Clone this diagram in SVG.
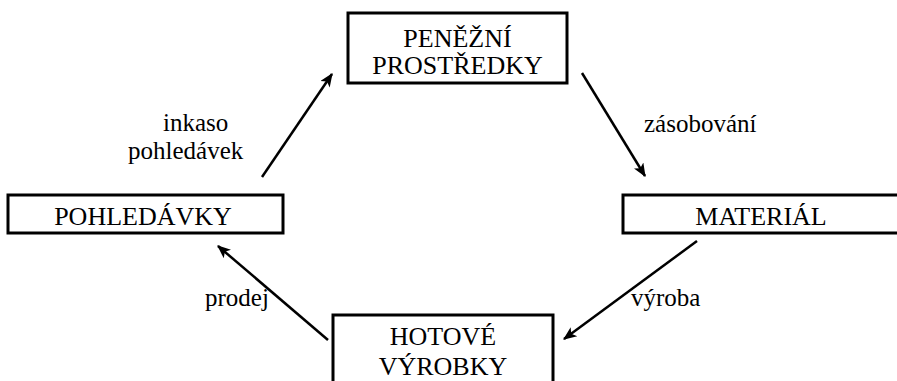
<svg xmlns="http://www.w3.org/2000/svg" width="897" height="381" viewBox="0 0 897 381">
<style>
.box{fill:#fff;stroke:#000;stroke-width:3}
.t{font-family:'Liberation Serif','DejaVu Serif',serif;font-size:26px;fill:#000;text-anchor:middle}
.l{font-family:'Liberation Serif','DejaVu Serif',serif;font-size:25px;fill:#000}
.c{stroke:#000;stroke-width:2.5;fill:none;marker-end:url(#ah)}
</style>
<defs>
<marker id="ah" viewBox="0 0 12 10" refX="11" refY="5" markerWidth="6" markerHeight="4.5" orient="auto" markerUnits="strokeWidth">
<path d="M0,0 L12,5 L0,10 L3,5 Z" fill="#000"/>
</marker>
</defs>
<rect width="897" height="381" fill="#fff"/>
<g id="connectors">
<line class="c" x1="262" y1="177" x2="332" y2="74"/>
<line class="c" x1="582" y1="73" x2="645" y2="176"/>
<line class="c" x1="697" y1="241" x2="564" y2="339"/>
<line class="c" x1="328" y1="340" x2="218" y2="246"/>
</g>
<g id="penezni">
<rect class="box" x="348" y="13" width="219" height="70"/>
<text class="t" x="457.5" y="47">PENĚŽNÍ</text>
<text class="t" x="457.5" y="74">PROSTŘEDKY</text>
</g>
<g id="material">
<rect class="box" x="623" y="195" width="290" height="38"/>
<text class="t" x="761" y="225">MATERIÁL</text>
</g>
<g id="hotove">
<rect class="box" x="333" y="315" width="220" height="80"/>
<text class="t" x="443" y="345">HOTOVÉ</text>
<text class="t" x="443" y="375">VÝROBKY</text>
</g>
<g id="pohledavky">
<rect class="box" x="8" y="195" width="275" height="38"/>
<text class="t" x="143" y="225">POHLEDÁVKY</text>
</g>
<g id="labels">
<text class="l" x="163" y="131">inkaso</text>
<text class="l" x="128" y="159">pohledávek</text>
<text class="l" x="644" y="132">zásobování</text>
<text class="l" x="205" y="306">prodej</text>
<text class="l" x="631" y="306">výroba</text>
</g>
</svg>
